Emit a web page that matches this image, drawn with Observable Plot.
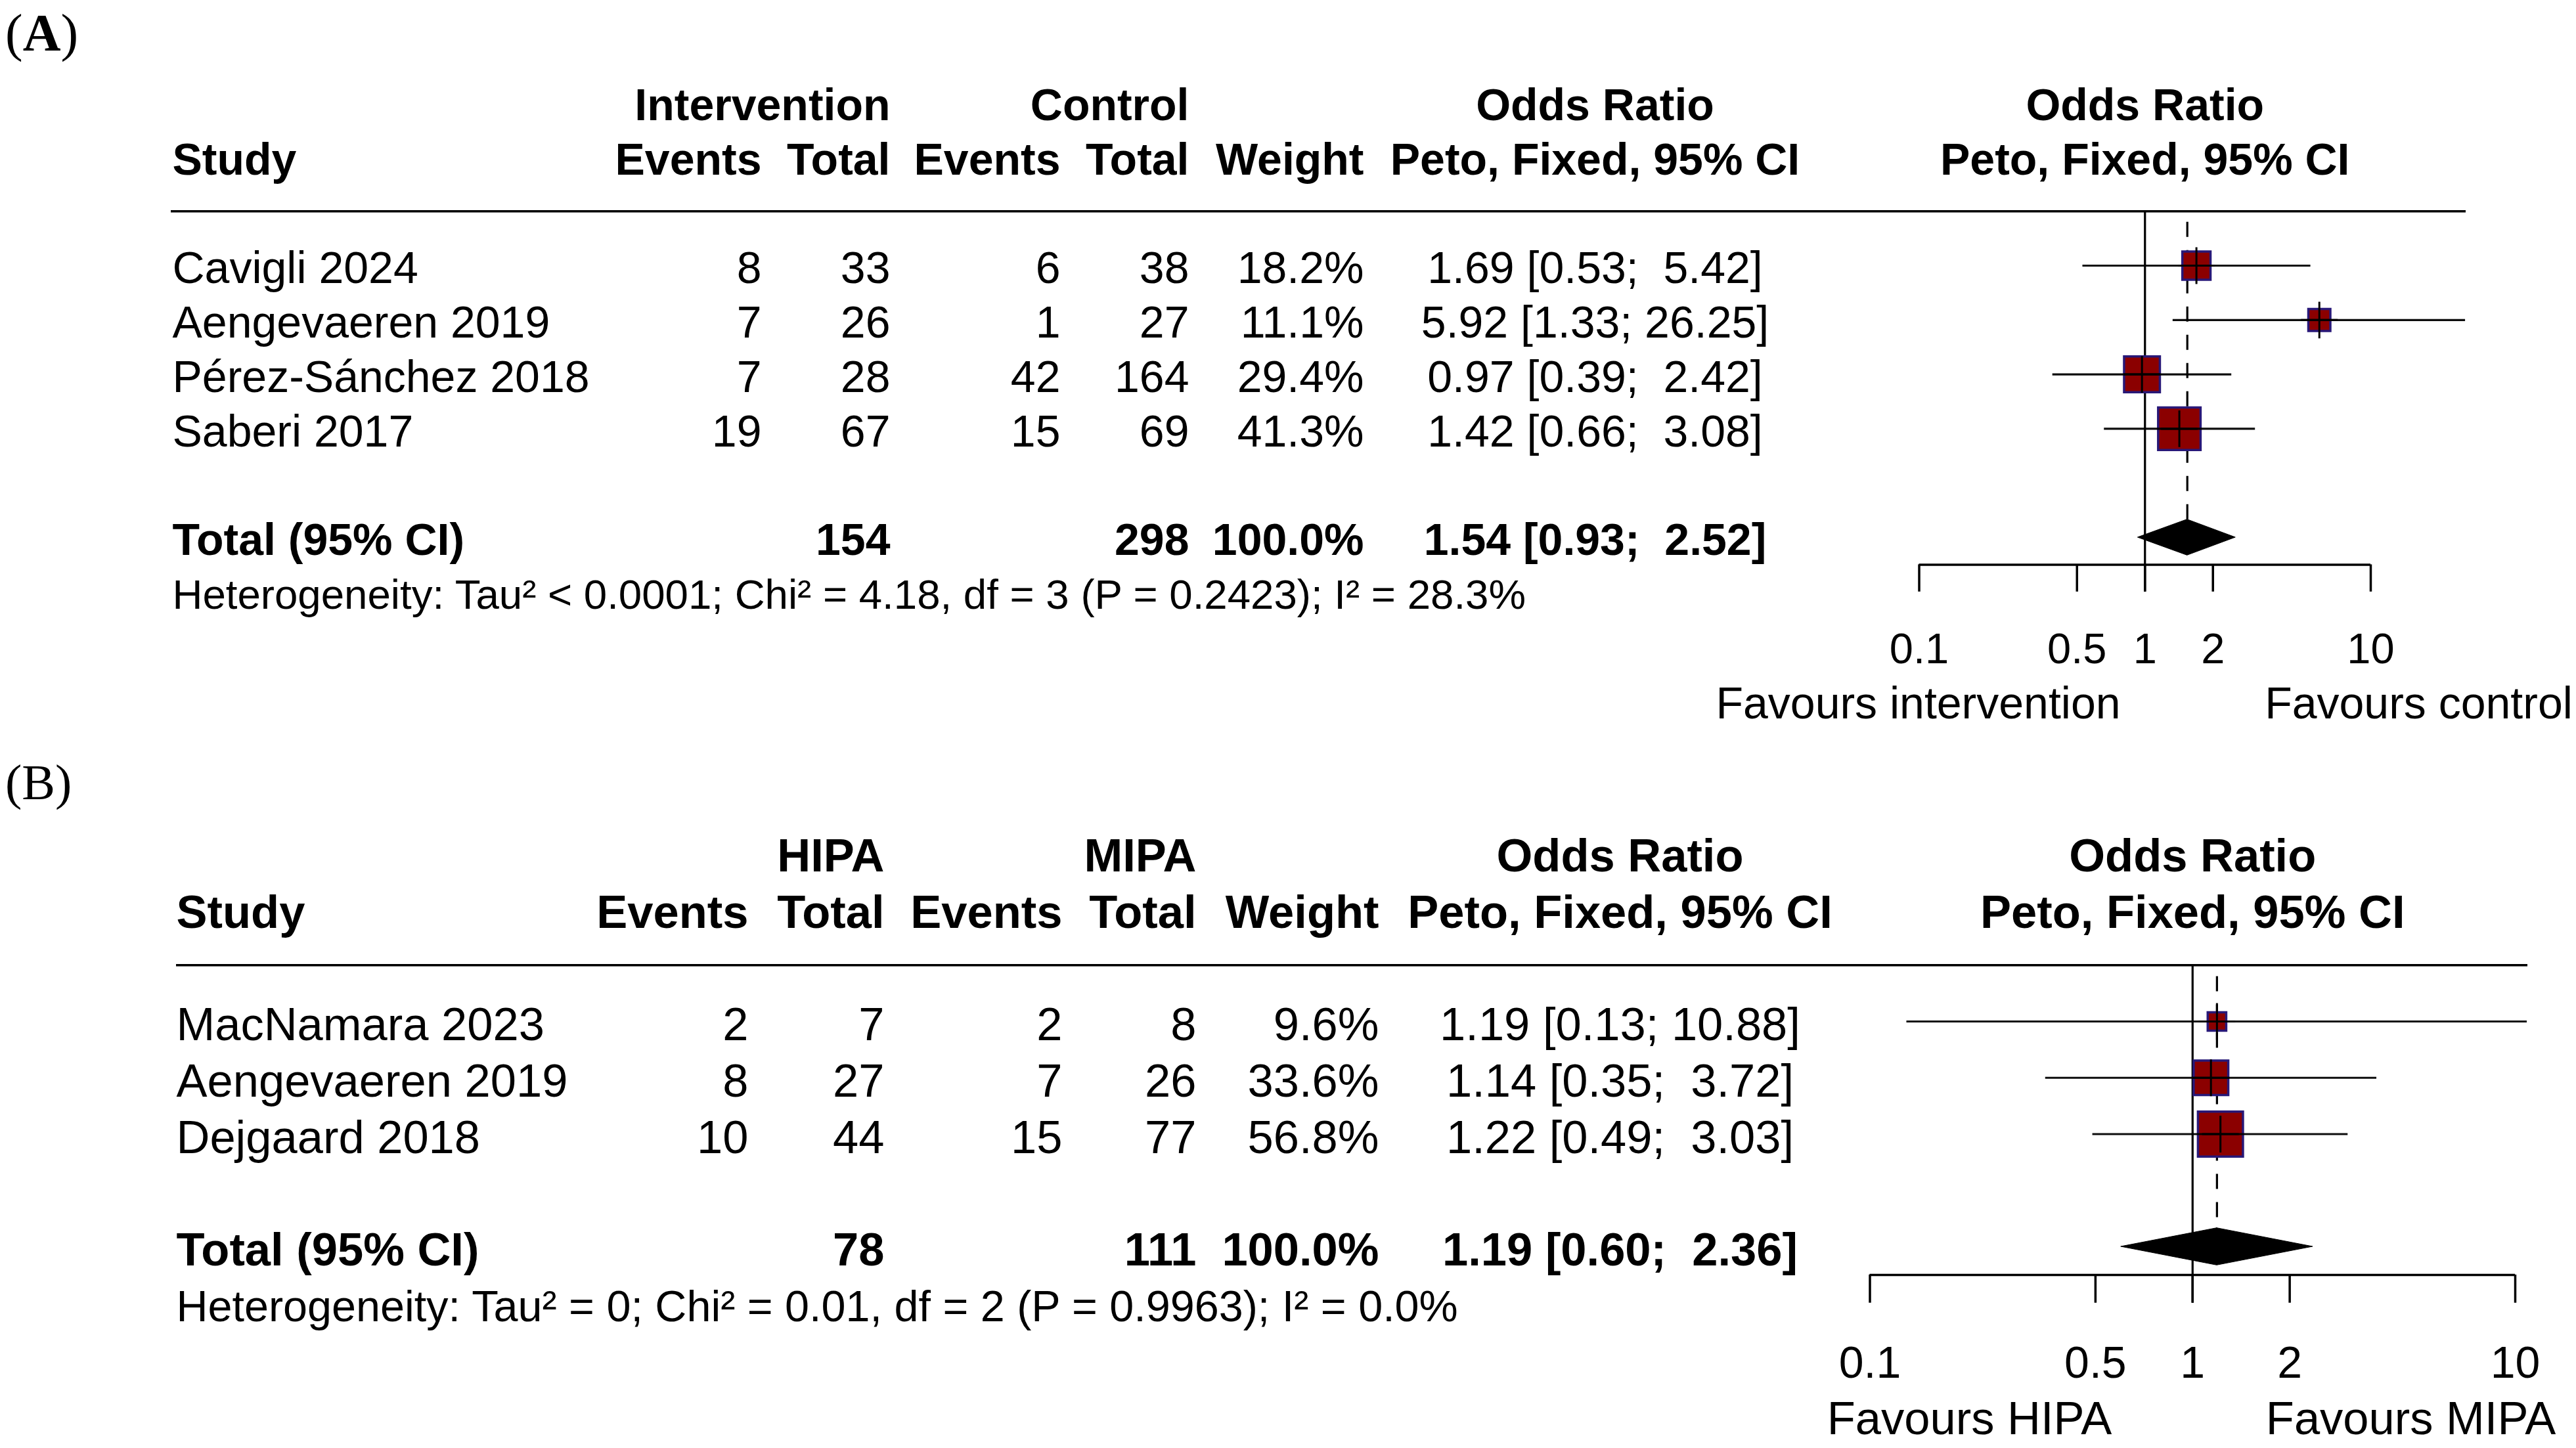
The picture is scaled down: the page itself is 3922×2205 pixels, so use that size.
<!DOCTYPE html>
<html>
<head>
<meta charset="utf-8">
<script src="https://cdn.jsdelivr.net/npm/d3@7"></script>
<script src="https://cdn.jsdelivr.net/npm/@observablehq/plot@0.6"></script>
<style>
  html, body { margin: 0; padding: 0; background: #fff; }
  #wrap { position: relative; width: 3922px; height: 2205px; overflow: hidden; background: #fff; }
  .panel { position: relative; width: 3922px; }
  .panel svg { display: block; overflow: visible; }
  .plabel { position: absolute; left: 8px; font-family: "Liberation Serif", "Times New Roman", serif;
            line-height: 1.2; color: #000; }
  svg text { white-space: pre; }
</style>
</head>
<body>
<div id="wrap"></div>
<script>
// ---------- Data: panel (A) ----------
const studiesA   = ["Cavigli 2024", "Aengevaeren 2019", "Pérez-Sánchez 2018", "Saberi 2017"];
const eventsIntA = [8, 7, 7, 19];
const totalIntA  = [33, 26, 28, 67];
const eventsCtlA = [6, 1, 42, 15];
const totalCtlA  = [38, 27, 164, 69];
const weightA    = [18.2, 11.1, 29.4, 41.3];
const orA        = [1.69, 5.92, 0.97, 1.42];
const lowerA     = [0.53, 1.33, 0.39, 0.66];
const upperA     = [5.42, 26.25, 2.42, 3.08];
const pooledA    = [1.54, 0.93, 2.52];          // OR, lower, upper
const sumTotalsA = [154, 298];                  // intervention, control
const groupsA    = ["Intervention", "Control"];
const favoursA   = ["Favours intervention", "Favours control"];
const hetA       = "Heterogeneity: Tau² < 0.0001; Chi² = 4.18, df = 3 (P = 0.2423); I² = 28.3%";

// ---------- Data: panel (B) ----------
const studiesB   = ["MacNamara 2023", "Aengevaeren 2019", "Dejgaard 2018"];
const eventsIntB = [2, 8, 10];
const totalIntB  = [7, 27, 44];
const eventsCtlB = [2, 7, 15];
const totalCtlB  = [8, 26, 77];
const weightB    = [9.6, 33.6, 56.8];
const orB        = [1.19, 1.14, 1.22];
const lowerB     = [0.13, 0.35, 0.49];
const upperB     = [10.88, 3.72, 3.03];
const pooledB    = [1.19, 0.60, 2.36];
const sumTotalsB = [78, 111];
const groupsB    = ["HIPA", "MIPA"];
const favoursB   = ["Favours HIPA", "Favours MIPA"];
const hetB       = "Heterogeneity: Tau² = 0; Chi² = 0.01, df = 2 (P = 0.9963); I² = 0.0%";

// ---------- Shared ----------
const tickValues = [0.1, 0.5, 1, 2, 10];
const nullValue  = 1;
const colHeaders = ["Events", "Total", "Events", "Total", "Weight"];
const orHeader   = ["Odds Ratio", "Peto, Fixed, 95% CI"];

const FONT = '"Liberation Sans", Arial, Helvetica, sans-serif';
const NBSP = "\u00A0";
const fmtCI = (o, l, h) => `${o.toFixed(2)} [${l.toFixed(2)}; ${h.toFixed(2).padStart(5, NBSP)}]`;

function forestPanel(d, L) {
  const n = d.studies.length;
  const rows = d.studies.map((s, i) => ({
    study: s, e1: d.e1[i], n1: d.n1[i], e2: d.e2[i], n2: d.n2[i],
    w: d.w[i], or: d.or[i], lo: d.lo[i], hi: d.hi[i], row: i + 1
  }));
  const totalRow = n + 2, axisRow = n + 2.5, hetRow = n + 3;
  const tickLabelRow = n + 4, favRow = n + 5;
  const [pOr, pLo, pHi] = d.pooled;
  const ml = L.marginLeft;
  const dx = (x) => x - ml;
  const fs = L.font, fsH = L.hetFont, fsT = L.tickFont, tdy = L.textDy;
  const diamond = [
    {y: totalRow - 0.33, x1: pOr, x2: pOr},
    {y: totalRow,        x1: pLo, x2: pHi},
    {y: totalRow + 0.33, x1: pOr, x2: pOr}
  ];
  const headerRow = -1, groupRow = -2;
  const left = {frameAnchor: "left", textAnchor: "start"};
  const txt = (data, o) => Plot.text(data, {fontSize: fs, dy: tdy, ...o});
  const numCol = (field, x) =>
    txt(rows, {y: "row", text: field, frameAnchor: "left", dx: dx(x), textAnchor: "end"});

  return Plot.plot({
    width: 3922,
    height: L.height,
    marginLeft: ml,
    marginRight: 3922 - L.ruleRight,
    marginTop: 0,
    marginBottom: 0,
    style: {fontFamily: FONT, fontSize: fs + "px", background: "white", overflow: "visible"},
    x: {type: "log", domain: [tickValues[0], tickValues[tickValues.length - 1]], range: L.xRange, axis: null},
    y: {type: "linear", domain: [-2, n + 5], range: [L.row1 - 3 * L.rowH, L.row1 + (n + 4) * L.rowH], axis: null},
    r: {type: "sqrt", domain: [0, 100], range: [0, L.rMax]},
    marks: [
      // header rule spanning the table
      Plot.ruleY([0], {stroke: "black", strokeWidth: 3.5}),

      // column headers
      txt([d.groups[0]], {y: () => groupRow, frameAnchor: "left", dx: dx(L.cols.n1), textAnchor: "end", fontWeight: "bold"}),
      txt([d.groups[1]], {y: () => groupRow, frameAnchor: "left", dx: dx(L.cols.n2), textAnchor: "end", fontWeight: "bold"}),
      txt(["Study"], {y: () => headerRow, ...left, dx: dx(L.cols.study), fontWeight: "bold"}),
      ...colHeaders.map((h, i) =>
        txt([h], {y: () => headerRow, frameAnchor: "left",
                  dx: dx([L.cols.e1, L.cols.n1, L.cols.e2, L.cols.n2, L.cols.w][i]),
                  textAnchor: "end", fontWeight: "bold"})),
      txt(orHeader, {y: (t, i) => groupRow + i, frameAnchor: "left", dx: dx(L.cols.orText),
                     textAnchor: "middle", fontWeight: "bold"}),
      txt(orHeader, {x: () => nullValue, y: (t, i) => groupRow + i, textAnchor: "middle", fontWeight: "bold"}),

      // study rows
      txt(rows, {y: "row", text: "study", ...left, dx: dx(L.cols.study)}),
      numCol("e1", L.cols.e1),
      numCol("n1", L.cols.n1),
      numCol("e2", L.cols.e2),
      numCol("n2", L.cols.n2),
      txt(rows, {y: "row", text: (r) => r.w.toFixed(1) + "%", frameAnchor: "left", dx: dx(L.cols.w), textAnchor: "end"}),
      txt(rows, {y: "row", text: (r) => fmtCI(r.or, r.lo, r.hi), frameAnchor: "left", dx: dx(L.cols.orText), textAnchor: "middle"}),

      // total row
      txt(["Total (95% CI)"], {y: () => totalRow, ...left, dx: dx(L.cols.study), fontWeight: "bold"}),
      txt([d.sums[0]], {y: () => totalRow, text: (v) => String(v), frameAnchor: "left", dx: dx(L.cols.n1), textAnchor: "end", fontWeight: "bold"}),
      txt([d.sums[1]], {y: () => totalRow, text: (v) => String(v), frameAnchor: "left", dx: dx(L.cols.n2), textAnchor: "end", fontWeight: "bold"}),
      txt([d3.sum(d.w)], {y: () => totalRow, text: (v) => v.toFixed(1) + "%", frameAnchor: "left", dx: dx(L.cols.w), textAnchor: "end", fontWeight: "bold"}),
      txt([d.pooled], {y: () => totalRow, text: (p) => fmtCI(p[0], p[1], p[2]), frameAnchor: "left", dx: dx(L.cols.orText), textAnchor: "middle", fontWeight: "bold"}),

      // heterogeneity
      txt([d.het], {y: () => hetRow, ...left, dx: dx(L.cols.study), fontSize: fsH}),

      // forest: reference lines
      Plot.ruleX([pOr], {y1: 0.2, y2: totalRow - 0.33, stroke: "black", strokeWidth: 3.2, strokeDasharray: "23,20"}),
      Plot.ruleX([nullValue], {y1: 0, y2: axisRow + 0.5, stroke: "black", strokeWidth: 3.2}),

      // weighted squares (area proportional to weight)
      Plot.dot(rows, {x: "or", y: "row", r: "w", symbol: "square", fill: "#8B0000", stroke: "#281878", strokeWidth: 3.5}),
      // confidence intervals
      Plot.ruleY(rows, {y: "row", x1: "lo", x2: "hi", stroke: "black", strokeWidth: 3.2, strokeOpacity: 0.95}),
      Plot.dot(rows, {x: "or", y: "row", r: 18, symbol: "plus", stroke: "black", fill: "none", strokeWidth: 3}),

      // pooled diamond
      Plot.areaX(diamond, {y: "y", x1: "x1", x2: "x2", fill: "black", stroke: "black", strokeWidth: 1}),

      // x axis (log scale)
      Plot.ruleY([axisRow], {x1: tickValues[0], x2: tickValues[tickValues.length - 1], stroke: "black", strokeWidth: 3.5}),
      Plot.ruleX(tickValues, {y1: axisRow, y2: axisRow + 0.5, stroke: "black", strokeWidth: 3.5}),
      Plot.text(tickValues, {x: (v) => v, y: () => tickLabelRow, dy: tdy, text: (v) => String(v), textAnchor: "middle", fontSize: fsT}),

      // favours labels
      txt([d.favours[0]], {y: () => favRow, frameAnchor: "left", dx: dx(L.favLeftX), textAnchor: "middle"}),
      txt([d.favours[1]], {y: () => favRow, frameAnchor: "left", dx: dx(L.favRightX), textAnchor: "middle"})
    ]
  });
}

const panelA = forestPanel(
  {studies: studiesA, e1: eventsIntA, n1: totalIntA, e2: eventsCtlA, n2: totalCtlA, w: weightA,
   or: orA, lo: lowerA, hi: upperA, pooled: pooledA, sums: sumTotalsA, groups: groupsA,
   favours: favoursA, het: hetA},
  {height: 1130, marginLeft: 260, ruleRight: 3754, xRange: [2921.5, 3609], row1: 404, rowH: 82.8,
   cols: {study: 262, e1: 1159, n1: 1355, e2: 1614, n2: 1810, w: 2076, orText: 2428},
   favLeftX: 2920, favRightX: 3682, font: 68, hetFont: 63.6, tickFont: 65, rMax: 56.7, textDy: 5}
);

const panelB = forestPanel(
  {studies: studiesB, e1: eventsIntB, n1: totalIntB, e2: eventsCtlB, n2: totalCtlB, w: weightB,
   or: orB, lo: lowerB, hi: upperB, pooled: pooledB, sums: sumTotalsB, groups: groupsB,
   favours: favoursB, het: hetB},
  {height: 1075, marginLeft: 268, ruleRight: 3848, xRange: [2846.5, 3829], row1: 425, rowH: 85.75,
   cols: {study: 268, e1: 1139, n1: 1346, e2: 1617, n2: 1821, w: 2099, orText: 2466},
   favLeftX: 2998, favRightX: 3670, font: 70.5, hetFont: 66.5, tickFont: 68, rMax: 51.3, textDy: 6}
);

const wrap = document.getElementById("wrap");
function addPanel(svg, labelHTML, labelTop, labelSize) {
  const div = document.createElement("div");
  div.className = "panel";
  div.appendChild(svg);
  const lab = document.createElement("div");
  lab.className = "plabel";
  lab.style.top = labelTop + "px";
  lab.style.fontSize = labelSize + "px";
  lab.innerHTML = labelHTML;
  div.appendChild(lab);
  wrap.appendChild(div);
}
addPanel(panelA, "(<b>A</b>)", 2, 80);
addPanel(panelB, "(B)", 16, 76);
</script>
</body>
</html>
